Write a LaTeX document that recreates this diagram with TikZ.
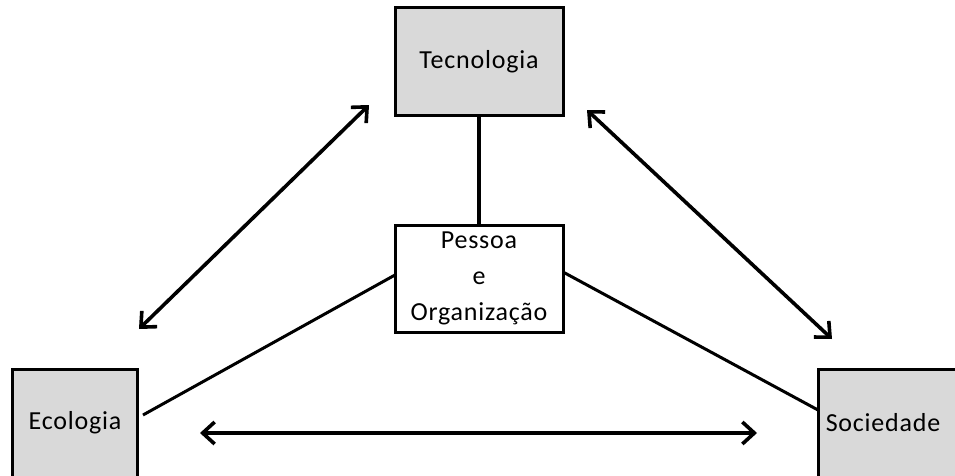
\documentclass[tikz,border=0pt]{standalone}
\usepackage{fontspec}
\setmainfont{Carlito}[LetterSpace=3]
\usetikzlibrary{arrows.meta}
\definecolor{boxgray}{HTML}{D9D9D9}
\begin{document}
\begin{tikzpicture}[x=1pt,y=1pt,
  box/.style={draw=black, line width=3pt, minimum width=168pt, minimum height=107pt, inner sep=0pt, font=\fontsize{26}{36}\selectfont, align=center},
  graybox/.style={box, fill=boxgray},
  label/.style={font=\fontsize{26}{30}\selectfont},
  link/.style={line width=3pt},
  biarrow/.style={line width=3.6pt, {Straight Barb[length=12pt,width=22pt]}-{Straight Barb[length=12pt,width=22pt]}}]
\useasboundingbox (0,0) rectangle (955,475);
\clip (0,0) rectangle (955,475);
\node[graybox] (tec) at (479,413.5) {Tecnologia};
\node[box, fill=white] (pes) at (479,196.5) {Pessoa\\e\\Organização};
\draw[line width=3pt, fill=boxgray] (12,106) rectangle (137,-10);
\node[label] (eco) at (75,52) {Ecologia};
\draw[line width=3pt, fill=boxgray] (818,106) rectangle (970,-10);
\node[label] (soc) at (883,52) {Sociedade};
\coordinate (ecoE) at (143,60);
\coordinate (socNW) at (818,65);
\coordinate (pesW) at (395,200);
\coordinate (pesE) at (563,203);
\draw[line width=4.5pt] (tec.south) -- (pes.north);
\draw[link] (pesW) -- (ecoE);
\draw[link] (pesE) -- (socNW);
\coordinate (a1) at (139,146);
\coordinate (a2) at (369,370);
\coordinate (b1) at (587,365);
\coordinate (b2) at (832,136);
\coordinate (c1) at (200,42);
\coordinate (c2) at (757,42);
\draw[biarrow] (a1) -- (a2);
\draw[biarrow] (b1) -- (b2);
\draw[biarrow] (c1) -- (c2);
\end{tikzpicture}
\end{document}
